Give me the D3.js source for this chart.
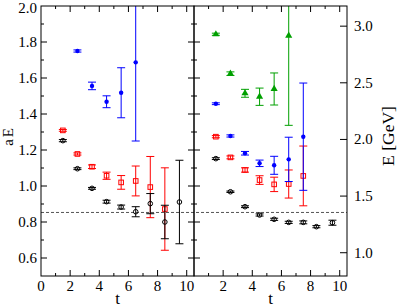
<!DOCTYPE html>
<html><head><meta charset="utf-8">
<script src="https://cdn.jsdelivr.net/npm/d3@7"></script>
<style>body{margin:0;background:#fff}svg{display:block}svg text{font-family:'Liberation Serif','Times New Roman',Times,'DejaVu Serif',serif}</style>
</head><body><svg id="c" width="399" height="307"></svg>
<script>
// ---- data (aE values, symmetric errors) ----
const tL = [1.5,2.5,3.5,4.5,5.5,6.5,7.5,8.5,9.5];
const leftBlack    = [1.252,1.096,0.987,0.913,0.883,0.857,0.902,0.800,0.911];
const leftBlackErr = [0.006,0.005,0.005,0.008,0.011,0.028,0.056,0.093,0.232];
const leftRed      = [1.309,1.178,1.107,1.057,1.020,1.028,0.994,0.872];
const leftRedErr   = [0.005,0.006,0.010,0.020,0.038,0.083,0.170,0.229];
const tLBlue = [2.5,3.5,4.5,5.5,6.5];
const leftBlue     = [1.750,1.556,1.468,1.518,1.687];
const leftBlueErr  = [0.006,0.021,0.033,0.139,0.437];

const rightBlack    = [1.152,0.968,0.885,0.839,0.815,0.798,0.798,0.774,0.796];
const rightBlackErr = [0.005,0.004,0.005,0.006,0.006,0.006,0.008,0.006,0.014];
const tRBlack = [1.5,2.5,3.5,4.5,5.5,6.5,7.5,8.4,9.5];
const rightRed      = [1.274,1.159,1.089,1.033,1.009,1.011,1.056];
const rightRedErr   = [0.006,0.008,0.012,0.024,0.040,0.078,0.166];
const rightBlue     = [1.457,1.278,1.182,1.126,1.115,1.148,1.274];
const rightBlueErr  = [0.005,0.006,0.010,0.018,0.050,0.123,0.298];
const rightGreen    = [1.843,1.624,1.515,1.496,1.539,1.835];
const rightGreenErr = [0.006,0.010,0.022,0.048,0.089,0.498];

const plateau = 0.853;
const invA = 1.589;           // GeV per lattice unit (E = aE * invA)
const xTicks = [0,2,4,6,8,10];
const yTicks = [0.6,0.8,1.0,1.2,1.4,1.6,1.8,2.0];
const eTicks = [1.0,1.5,2.0,2.5,3.0];

// ---- layout ----
const svg = d3.select("#c");
const yTop = 6, yBot = 276;
const panels = [{x0:41,x1:194},{x0:194,x1:347}];
const y = d3.scaleLinear().domain([0.5,2.0]).range([yBot,yTop]);
const yE = d3.scaleLinear().domain([0.5*invA,2.0*invA]).range([yBot,yTop]);
const xs = panels.map(p=>d3.scaleLinear().domain([0,10.5]).range([p.x0,p.x1]));

const defs = svg.append("defs");
panels.forEach((p,i)=>{
  defs.append("clipPath").attr("id","clip"+i).append("rect")
    .attr("x",p.x0).attr("y",yTop).attr("width",p.x1-p.x0).attr("height",yBot-yTop);
});

// dashed plateau line
svg.append("line").attr("x1",panels[0].x0).attr("x2",panels[1].x1)
  .attr("y1",y(plateau)).attr("y2",y(plateau))
  .attr("stroke","#555").attr("stroke-width",1).attr("stroke-dasharray","3,2");

function series(panel, ts, vals, errs, color, shape){
  const g = svg.append("g").attr("clip-path","url(#clip"+panel+")");
  const x = xs[panel];
  vals.forEach((v,i)=>{
    const cx = x(ts[i]), e = errs[i];
    const yt = y(v+e), yb = y(v-e);
    g.append("line").attr("x1",cx).attr("x2",cx).attr("y1",yt).attr("y2",yb).attr("stroke",color).attr("stroke-width",1);
    [yt,yb].forEach(yy=>g.append("line").attr("x1",cx-4).attr("x2",cx+4).attr("y1",yy).attr("y2",yy).attr("stroke",color).attr("stroke-width",1));
    const cy = y(v);
    if(shape==="circle"){
      g.append("circle").attr("cx",cx).attr("cy",cy).attr("r",2.3).attr("fill","none").attr("stroke",color).attr("stroke-width",1);
    } else if(shape==="square"){
      g.append("rect").attr("x",cx-2.3).attr("y",cy-2.3).attr("width",4.6).attr("height",4.6).attr("fill","none").attr("stroke",color).attr("stroke-width",1);
    } else if(shape==="dot"){
      g.append("circle").attr("cx",cx).attr("cy",cy).attr("r",2.2).attr("fill",color);
    } else if(shape==="tri"){
      g.append("path").attr("d",d3.symbol(d3.symbolTriangle,22)()).attr("transform",`translate(${cx},${cy})`).attr("fill",color);
    }
  });
}

series(0, tL, leftRed, leftRedErr, "#ff0000", "square");
series(0, tL, leftBlack, leftBlackErr, "#000", "circle");
series(0, tLBlue, leftBlue, leftBlueErr, "#0000ff", "dot");
series(1, tL, rightGreen, rightGreenErr, "#00a000", "tri");
series(1, tL, rightRed, rightRedErr, "#ff0000", "square");
series(1, tL, rightBlue, rightBlueErr, "#0000ff", "dot");
series(1, tRBlack, rightBlack, rightBlackErr, "#000", "circle");

// ---- frames and ticks ----
const tk = svg.append("g").attr("stroke","#000").attr("stroke-width",1);
panels.forEach((p,i)=>{
  const x = xs[i];
  tk.append("rect").attr("x",p.x0).attr("y",yTop).attr("width",p.x1-p.x0).attr("height",yBot-yTop).attr("fill","none");
  d3.range(1,11).forEach(t=>{
    const len = t%2===0?6:3;
    tk.append("line").attr("x1",x(t)).attr("x2",x(t)).attr("y1",yBot).attr("y2",yBot-len);
    tk.append("line").attr("x1",x(t)).attr("x2",x(t)).attr("y1",yTop).attr("y2",yTop+len);
  });
  d3.range(0.6,2.0,0.1).forEach((v,k)=>{
    const len = k%2===0?6:3;
    tk.append("line").attr("x1",p.x0).attr("x2",p.x0+len).attr("y1",y(v)).attr("y2",y(v));
    if(i===0) tk.append("line").attr("x1",p.x1).attr("x2",p.x1-len).attr("y1",y(v)).attr("y2",y(v));
  });
  const labs = i===0 ? xTicks : xTicks.slice(1);
  svg.append("g").selectAll("text").data(labs).join("text")
    .attr("x",d=>x(d)).attr("y",291).attr("text-anchor","middle").attr("font-size",15).text(d=>d);
  svg.append("text").attr("x",(p.x0+p.x1)/2).attr("y",304).attr("text-anchor","middle").attr("font-size",17).text("t");
});
// right E axis
eTicks.forEach(v=>{
  tk.append("line").attr("x1",panels[1].x1).attr("x2",panels[1].x1-7).attr("y1",yE(v)).attr("y2",yE(v));
});
svg.append("g").selectAll("text").data(eTicks).join("text")
  .attr("x",354).attr("y",d=>yE(d)+5).attr("font-size",15).text(d=>d.toFixed(1));
// left y labels
svg.append("g").selectAll("text").data(yTicks).join("text")
  .attr("x",37).attr("y",d=>Math.max(y(d)+5,13)).attr("text-anchor","end").attr("font-size",15).text(d=>d.toFixed(1));

svg.append("text").attr("transform","translate(13,137) rotate(-90)").attr("text-anchor","middle")
  .attr("font-size",15).attr("word-spacing","-2").text("a E");
svg.append("text").attr("transform","translate(394,136) rotate(-90)").attr("text-anchor","middle")
  .attr("font-size",17.5).text("E [GeV]");
</script></body></html>
